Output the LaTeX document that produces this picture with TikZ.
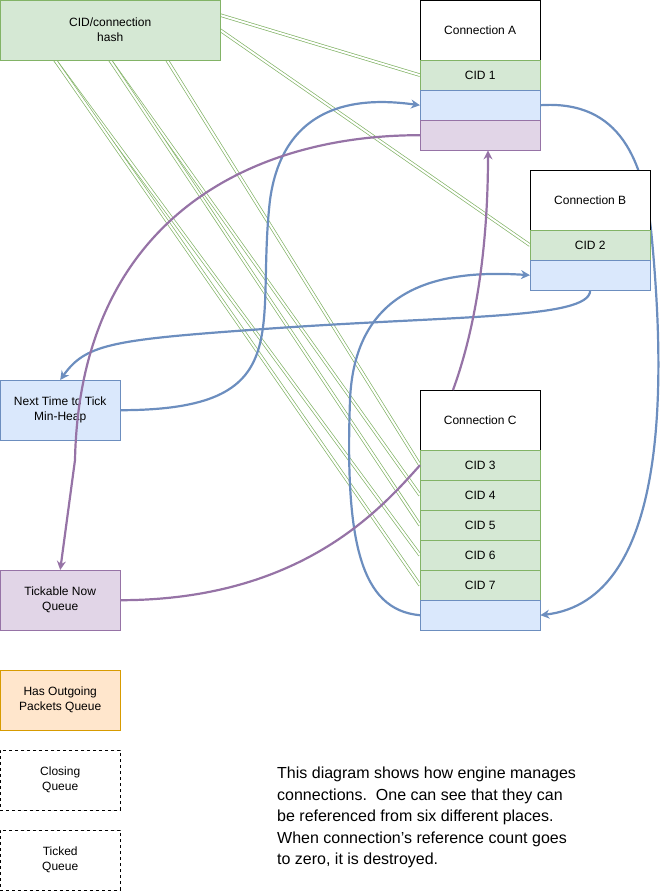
\documentclass[tikz,border=0pt]{standalone}
\usepackage{fontspec}
\setmainfont{Liberation Sans}
\usetikzlibrary{arrows.meta,backgrounds}
\definecolor{gf}{HTML}{D5E8D4}\definecolor{gs}{HTML}{82B366}
\definecolor{bf}{HTML}{DAE8FC}\definecolor{bs}{HTML}{6C8EBF}
\definecolor{pf}{HTML}{E1D5E7}\definecolor{ps}{HTML}{9673A6}
\definecolor{of}{HTML}{FFE6CC}\definecolor{os}{HTML}{D79B00}
\begin{document}
\begin{tikzpicture}[x=1pt,y=-1pt,
 box/.style={draw,minimum width=120pt,minimum height=60pt,inner sep=0pt,align=center,font=\fontsize{12}{15}\selectfont,anchor=north west},
 row/.style={draw,minimum width=120pt,minimum height=30pt,inner sep=0pt,font=\fontsize{12}{15}\selectfont,anchor=north west},
 g/.style={fill=gf,draw=gs},b/.style={fill=bf,draw=bs},p/.style={fill=pf,draw=ps},
 gl/.style={draw=gs,double=white,double distance=2pt,line width=0.7pt},
 bl/.style={draw=bs,line width=2.2pt,-{Stealth[length=9pt,width=9pt]}},
 pl/.style={draw=ps,line width=2.2pt,-{Stealth[length=9pt,width=9pt]}}]
\useasboundingbox (0,0) rectangle (662,891);
\node[box,g,minimum width=220pt] (h) at (0,0) {CID/connection\\hash};
\node[box,fill=white] (A) at (420,0) {Connection A};
\node[row,g] (c1) at (420,60) {CID 1};
\node[row,b] (ab) at (420,90) {};
\node[row,p] (ap) at (420,120) {};
\node[box,fill=white] (B) at (530,170) {Connection B};
\node[row,g] (c2) at (530,230) {CID 2};
\node[row,b] (bb) at (530,260) {};
\node[box,fill=white] (C) at (420,390) {Connection C};
\node[row,g] (c3) at (420,450) {CID 3};
\node[row,g] (c4) at (420,480) {CID 4};
\node[row,g] (c5) at (420,510) {CID 5};
\node[row,g] (c6) at (420,540) {CID 6};
\node[row,g] (c7) at (420,570) {CID 7};
\node[row,b] (cb) at (420,600) {};
\node[box,b] (nt) at (0,380) {Next Time to Tick\\Min-Heap};
\node[box,p] (tn) at (0,570) {Tickable Now\\Queue};
\node[box,fill=of,draw=os] (ho) at (0,670) {Has Outgoing\\Packets Queue};
\node[box,dashed] (cl) at (0,750) {Closing\\Queue};
\node[box,dashed] (tq) at (0,830) {Ticked\\Queue};
\node[anchor=north west,align=left,inner sep=0pt,font=\fontsize{16}{21.5}\selectfont] (txt) at (277,767) {This diagram shows how engine manages\\connections.\ \ One can see that they can\\be referenced from six different places.\\When connection's reference count goes\\to zero, it is destroyed.};
\begin{scope}[on background layer]
\coordinate (h1) at (220,15); \coordinate (h2) at (220,30);
\coordinate (hb1) at (55,60); \coordinate (hb2) at (110,60); \coordinate (hb3) at (167,60);
\draw[gl] (h1) -- (c1.west);
\draw[gl] (h2) -- (c2.west);
\draw[gl] (hb3) -- (c3.west);
\draw[gl] (hb2) -- (c4.west);
\draw[gl] (hb2) -- (c5.west);
\draw[gl] (hb1) -- (c6.west);
\draw[gl] (hb1) -- (c7.west);
\draw[bl] (ab.east) .. controls (620,100) and (645,160) .. (652,240) .. controls (665,380) and (670,600) .. (cb.east);
\end{scope}
\draw[bl] (nt.east) .. controls (300,410) and (255,330) .. (270,200) .. controls (285,90) and (380,100) .. (ab.west);
\draw[bl] (bb.south) .. controls (590,320) and (450,315) .. (250,330) .. controls (110,340) and (85,345) .. (nt.north);
\draw[bl] (cb.west) .. controls (360,610) and (345,540) .. (350,400) .. controls (355,280) and (450,270) .. (bb.west);
\draw[pl] (ap.west) .. controls (250,135) and (80,220) .. (75,460) -- (tn.north);
\draw[pl] (453,390) .. controls (475,330) and (488,250) .. (ap.south-|488,0);
\draw[pl,-] (tn.east) .. controls (300,600) and (380,510) .. (c3.west);
\end{tikzpicture}
\end{document}
